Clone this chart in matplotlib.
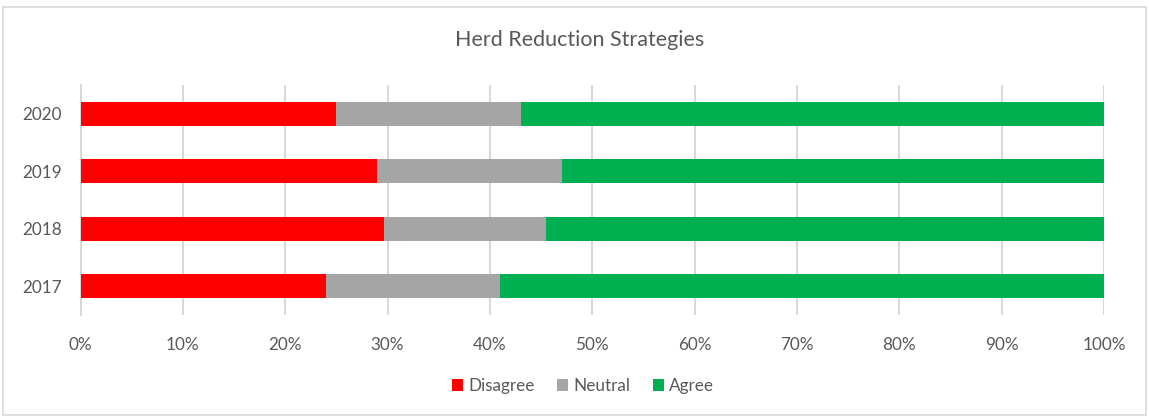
import matplotlib.pyplot as plt
from matplotlib.patches import Rectangle

years = ["2017", "2018", "2019", "2020"]
disagree = [24.0, 29.7, 29.0, 25.0]
neutral = [17.0, 15.8, 18.0, 18.0]
agree = [59.0, 54.5, 53.0, 57.0]
series_names = ["Disagree", "Neutral", "Agree"]
colors = ["#FF0000", "#A5A5A5", "#00B050"]
xticks = list(range(0, 101, 10))
xtick_labels = [f"{t}%" for t in xticks]

plt.rcParams['font.family'] = ['Lato', 'DejaVu Sans']
W, H = 1149, 417
fig = plt.figure(figsize=(W / 100, H / 100), dpi=100)
fig.patch.set_facecolor("white")
fig.patches.append(Rectangle((3 / W, 2 / H), (W - 6) / W, (H - 9) / H, transform=fig.transFigure,
                             fill=False, edgecolor="#D9D9D9", linewidth=1.2))

ax = fig.add_axes([80.5 / W, 1 - 315 / H, (1104 - 80.5) / W, (315 - 85) / H])
ypos = range(len(years))
left = [0] * len(years)
for vals, name, c in zip([disagree, neutral, agree], series_names, colors):
    ax.barh(ypos, vals, left=left, height=0.41, color=c, label=name, zorder=3)
    left = [a + b for a, b in zip(left, vals)]

ax.set_xlim(0, 100)
ax.set_ylim(-0.5, 3.5)
ax.set_yticks(list(ypos))
ax.set_yticklabels(years)
ax.set_xticks(xticks)
ax.set_xticklabels(xtick_labels)
ax.tick_params(axis='both', length=0, labelsize=12.3, colors="#595959")
ax.tick_params(axis='x', pad=16)
ax.tick_params(axis='y', pad=13.5)
ax.grid(axis='x', color="#D9D9D9", linewidth=1.5, zorder=0)
for s in ["top", "right", "bottom"]:
    ax.spines[s].set_visible(False)
ax.spines["left"].set_color("#D9D9D9")
ax.spines["left"].set_linewidth(1.5)

fig.text(580 / W, 1 - 40 / H, "Herd Reduction Strategies", ha="center", va="center",
         fontsize=15.5, color="#595959")

fig.legend(loc="center", bbox_to_anchor=(583 / W, 1 - 386 / H), ncol=3, frameon=False,
           fontsize=12.3, handlelength=0.65, handleheight=0.65, handletextpad=0.3,
           columnspacing=1.3, labelcolor="#595959")

fig.savefig("out.png", dpi=100, facecolor="white")
